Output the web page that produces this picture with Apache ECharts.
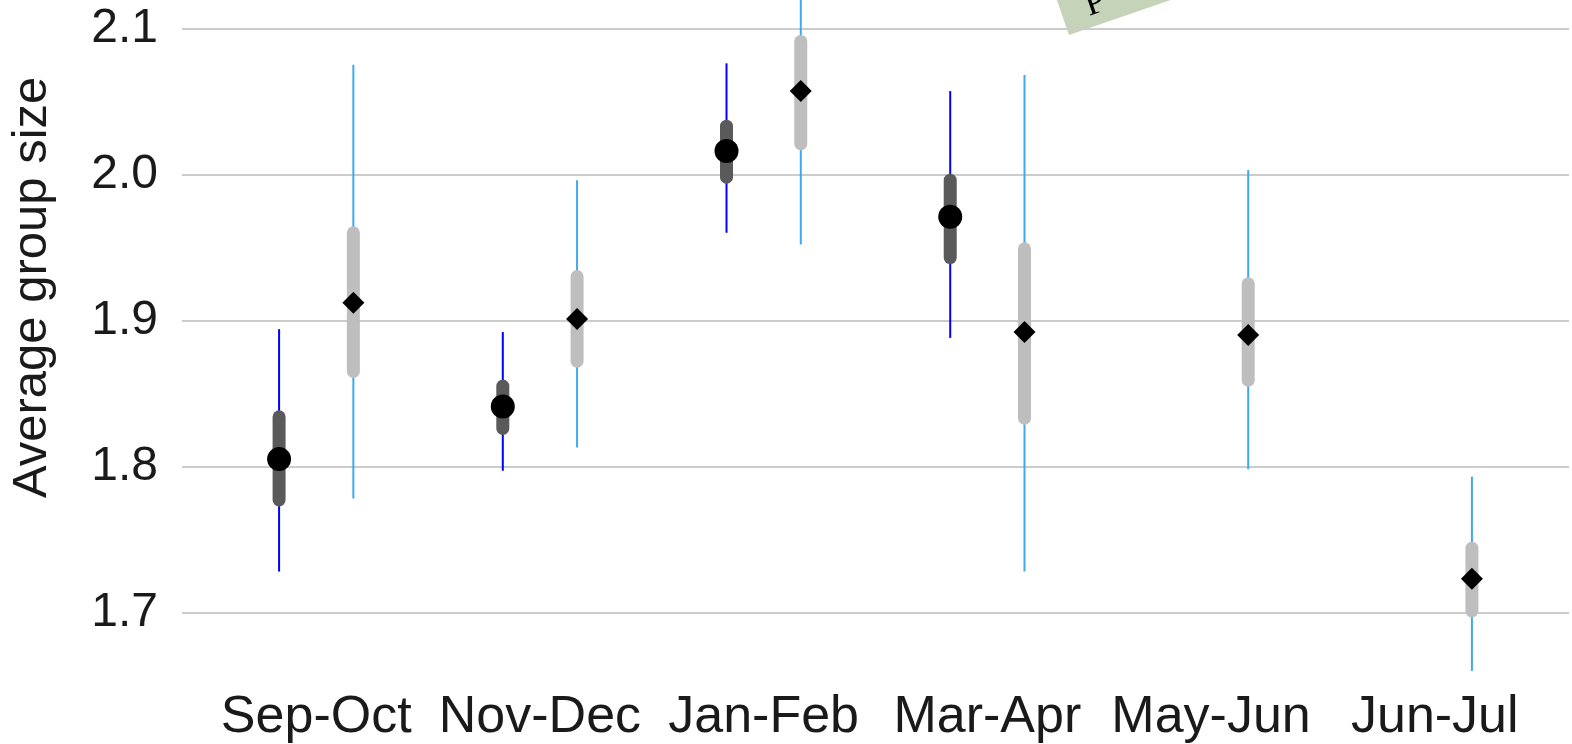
<!DOCTYPE html>
<html>
<head>
<meta charset="utf-8">
<script src="https://cdn.jsdelivr.net/npm/echarts@6/dist/echarts.min.js"></script>
<style>
html,body{margin:0;padding:0;background:#fff;}
#chart{width:1572px;height:744px;}
</style>
</head>
<body>
<div id="chart"></div>
<script>
// ---- data ----
const categories = ['Sep-Oct', 'Nov-Dec', 'Jan-Feb', 'Mar-Apr', 'May-Jun', 'Jun-Jul'];
const yTicks = [1.7, 1.8, 1.9, 2.0, 2.1];

// series A (circles, dark)
const darkMean    = [1.805, 1.841, 2.016, 1.971, null, null];
const darkInnerLo = [1.777, 1.826, 1.998, 1.943, null, null];
const darkInnerHi = [1.834, 1.855, 2.033, 1.996, null, null];
const darkOuterLo = [1.728, 1.797, 1.960, 1.888, null, null];
const darkOuterHi = [1.894, 1.892, 2.076, 2.057, null, null];

// series B (diamonds, light)
const lightMean    = [1.912, 1.901, 2.057, 1.892, 1.890, 1.723];
const lightInnerLo = [1.865, 1.872, 2.021, 1.833, 1.859, 1.701];
const lightInnerHi = [1.960, 1.930, 2.091, 1.949, 1.925, 1.744];
const lightOuterLo = [1.778, 1.813, 1.952, 1.728, 1.798, 1.660];
const lightOuterHi = [2.075, 1.996, 2.163, 2.068, 2.003, 1.793];

const yAxisTitle = 'Average group size';
const stampText = 'P';

// ---- build ----
const OFF = 0.166;
function rangeData(lo, hi, ilo, ihi, shift) {
  const out = [];
  for (let i = 0; i < categories.length; i++) {
    if (lo[i] == null) continue;
    out.push([i + 1 + shift, lo[i], hi[i], ilo[i], ihi[i]]);
  }
  return out;
}
function pointData(m, shift) {
  const out = [];
  for (let i = 0; i < categories.length; i++) {
    if (m[i] == null) continue;
    out.push([i + 1 + shift, m[i]]);
  }
  return out;
}
function makeRender(whisker, box) {
  return function (params, api) {
    const x = api.value(0);
    const a = api.coord([x, api.value(1)]);
    const b = api.coord([x, api.value(2)]);
    const c = api.coord([x, api.value(3)]);
    const d = api.coord([x, api.value(4)]);
    return {
      type: 'group',
      children: [
        { type: 'line', shape: { x1: a[0], y1: a[1], x2: b[0], y2: b[1] },
          style: { stroke: whisker, lineWidth: 2 } },
        { type: 'line', shape: { x1: c[0], y1: c[1], x2: d[0], y2: d[1] },
          style: { stroke: box, lineWidth: 13, lineCap: 'round' } }
      ]
    };
  };
}

const chart = echarts.init(document.getElementById('chart'), null, { renderer: 'canvas' });
const option = {
  backgroundColor: '#ffffff',
  animation: false,
  grid: { left: 182, right: 3, top: -117.75, bottom: -14.5, containLabel: false, outerBoundsMode: 'none' },
  xAxis: {
    type: 'value', min: 0.4, max: 6.6,
    axisLine: { show: false }, axisTick: { show: false }, splitLine: { show: false },
    axisLabel: {
      customValues: [1, 2, 3, 4, 5, 6],
      formatter: function (v) { return categories[Math.round(v) - 1] || ''; },
      margin: -67,
      fontFamily: 'Liberation Sans, Arial, sans-serif',
      fontSize: 52, color: '#1a1a1a'
    }
  },
  yAxis: {
    type: 'value', min: 1.6, max: 2.2, interval: 0.1,
    name: yAxisTitle, nameLocation: 'middle', nameGap: 125, nameRotate: 90,
    nameTextStyle: { fontFamily: 'Liberation Sans, Arial, sans-serif', fontSize: 49, color: '#1a1a1a', padding: [0, 0, 0, 66] },
    axisLine: { show: false }, axisTick: { show: false },
    splitLine: { lineStyle: { color: '#cccccc', width: 2 } },
    axisLabel: {
      margin: 24,
      fontFamily: 'Liberation Sans, Arial, sans-serif', fontSize: 48, color: '#1a1a1a',
      formatter: function (v) {
        const r = Math.round(v * 10) / 10;
        return yTicks.indexOf(r) >= 0 ? r.toFixed(1) : '';
      }
    }
  },
  series: [
    { type: 'custom', renderItem: makeRender('#0000ff', '#5a5a5a'), clip: false,
      data: rangeData(darkOuterLo, darkOuterHi, darkInnerLo, darkInnerHi, -OFF), z: 2 },
    { type: 'custom', renderItem: makeRender('#3ea9ee', '#bebebe'), clip: false,
      data: rangeData(lightOuterLo, lightOuterHi, lightInnerLo, lightInnerHi, OFF), z: 2 },
    { type: 'scatter', symbol: 'circle', symbolSize: 24, itemStyle: { color: '#000000', opacity: 1 },
      data: pointData(darkMean, -OFF), z: 5 },
    { type: 'scatter', symbol: 'diamond', symbolSize: 22, itemStyle: { color: '#000000', opacity: 1 },
      data: pointData(lightMean, OFF), z: 5 }
  ],
  graphic: [
    {
      type: 'group', x: 1069, y: 35, rotation: 19 * Math.PI / 180, z: 100,
      children: [
        { type: 'rect', shape: { x: 0, y: -120, width: 260, height: 120 },
          style: { fill: '#c5d3b9' } },
        { type: 'text', x: 25, y: -3,
          style: { text: stampText, fill: '#000000', fontFamily: 'Liberation Serif, Times New Roman, serif',
                   fontSize: 36, verticalAlign: 'bottom' } }
      ]
    }
  ]
};
chart.setOption(option);
</script>
</body>
</html>
